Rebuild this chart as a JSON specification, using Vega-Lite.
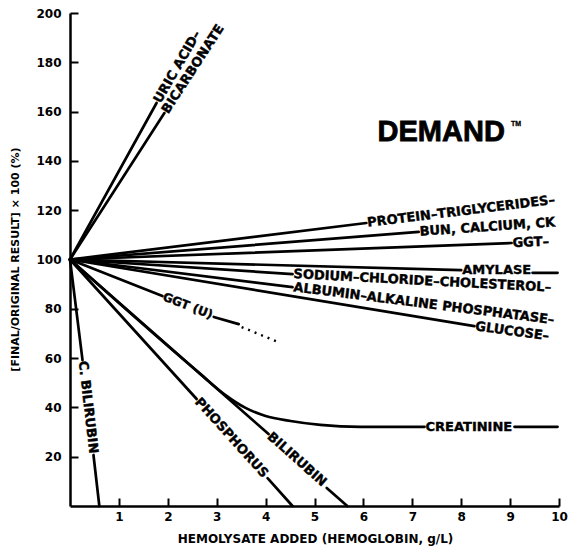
{
  "$schema": "https://vega.github.io/schema/vega-lite/v6.json",
  "width": 489,
  "height": 493,
  "autosize": {"type": "none"},
  "padding": {"left": 70, "top": 13, "right": 9, "bottom": 45},
  "background": "white",
  "config": {
    "view": {"stroke": null},
    "font": "DejaVu Sans",
    "text": {"font": "DejaVu Sans", "fontWeight": "bold", "fontSize": 13, "color": "black", "align": "left", "baseline": "middle", "dx": 1, "stroke": "black", "strokeWidth": 0.4}
  },
  "datasets": {
    "lines": [
      {"seg": "uric1", "x": 0, "y": 100}, {"seg": "uric1", "x": 1.77, "y": 163.5},
      {"seg": "bicarb1", "x": 0, "y": 100}, {"seg": "bicarb1", "x": 1.93, "y": 159.4},
      {"seg": "protein1", "x": 0, "y": 100}, {"seg": "protein1", "x": 6.06, "y": 114.8},
      {"seg": "bun1", "x": 0, "y": 100}, {"seg": "bun1", "x": 7.13, "y": 111.2},
      {"seg": "ggt1", "x": 0, "y": 100}, {"seg": "ggt1", "x": 9.03, "y": 106.7},
      {"seg": "amylase1", "x": 0, "y": 100}, {"seg": "amylase1", "x": 8.0, "y": 95.7},
      {"seg": "amylase2", "x": 9.46, "y": 94.6}, {"seg": "amylase2", "x": 9.97, "y": 94.6},
      {"seg": "sodium1", "x": 0, "y": 100}, {"seg": "sodium1", "x": 4.55, "y": 94.1},
      {"seg": "albumin1", "x": 0, "y": 100}, {"seg": "albumin1", "x": 4.55, "y": 88.8},
      {"seg": "glucose1", "x": 0, "y": 100}, {"seg": "glucose1", "x": 8.27, "y": 73.0},
      {"seg": "ggtu1", "x": 0, "y": 100}, {"seg": "ggtu1", "x": 1.89, "y": 85.2},
      {"seg": "ggtu2", "x": 2.94, "y": 76.7}, {"seg": "ggtu2", "x": 3.45, "y": 73.8},
      {"seg": "creat1", "x": 0, "y": 100}, {"seg": "creat1", "x": 2.67, "y": 53.5},
      {"seg": "creat1", "x": 3.18, "y": 45.0}, {"seg": "creat1", "x": 3.59, "y": 39.8},
      {"seg": "creat1", "x": 4.0, "y": 36.5}, {"seg": "creat1", "x": 4.51, "y": 34.5},
      {"seg": "creat1", "x": 5.12, "y": 32.9}, {"seg": "creat1", "x": 5.94, "y": 32.1},
      {"seg": "creat1", "x": 7.25, "y": 32.1},
      {"seg": "creat2", "x": 9.09, "y": 32.1}, {"seg": "creat2", "x": 9.97, "y": 32.1},
      {"seg": "bili1", "x": 0, "y": 100}, {"seg": "bili1", "x": 4.06, "y": 29.2},
      {"seg": "bili2", "x": 5.25, "y": 7.3}, {"seg": "bili2", "x": 5.67, "y": 0},
      {"seg": "phos1", "x": 0, "y": 100}, {"seg": "phos1", "x": 2.59, "y": 43.4},
      {"seg": "phos2", "x": 4.04, "y": 11.3}, {"seg": "phos2", "x": 4.55, "y": 0},
      {"seg": "cbili1", "x": 0, "y": 100}, {"seg": "cbili1", "x": 0.256, "y": 59.2},
      {"seg": "cbili2", "x": 0.48, "y": 20.7}, {"seg": "cbili2", "x": 0.6, "y": 0}
    ],
    "dotted": [
      {"seg": "ggtu3", "x": 3.51, "y": 72.6}, {"seg": "ggtu3", "x": 4.26, "y": 66.5}
    ],
    "labels": [
      {"label": "URIC ACID–", "x": 1.77, "y": 163.5},
      {"label": "BICARBONATE", "x": 1.93, "y": 159.4},
      {"label": "PROTEIN–TRIGLYCERIDES–", "x": 6.06, "y": 114.8},
      {"label": "BUN, CALCIUM, CK", "x": 7.13, "y": 111.2},
      {"label": "GGT–", "x": 9.03, "y": 106.7},
      {"label": "AMYLASE", "x": 8.0, "y": 95.7},
      {"label": "SODIUM–CHLORIDE–CHOLESTEROL–", "x": 4.55, "y": 94.1},
      {"label": "ALBUMIN–ALKALINE PHOSPHATASE–", "x": 4.55, "y": 88.8},
      {"label": "GLUCOSE–", "x": 8.27, "y": 73.0},
      {"label": "GGT (U)", "x": 1.89, "y": 85.2},
      {"label": "CREATININE", "x": 7.25, "y": 32.1},
      {"label": "BILIRUBIN", "x": 4.06, "y": 29.2},
      {"label": "PHOSPHORUS", "x": 2.59, "y": 43.4},
      {"label": "C. BILIRUBIN", "x": 0.256, "y": 59.2},
      {"label": "DEMAND", "x": 6.29, "y": 151.7},
      {"label": "TM", "x": 9.02, "y": 155.0}
    ]
  },
  "encoding": {
    "x": {
      "field": "x", "type": "quantitative",
      "scale": {"domain": [0, 10], "nice": false, "zero": false},
      "axis": {
        "values": [1, 2, 3, 4, 5, 6, 7, 8, 9, 10],
        "grid": false,
        "domainColor": "black", "domainWidth": 2.5,
        "tickColor": "black", "tickWidth": 2, "tickSize": -8,
        "labelPadding": 13,
        "labelFont": "DejaVu Sans", "labelFontWeight": "bold", "labelFontSize": 12, "labelColor": "black",
        "labelFlush": false, "labelOverlap": false,
        "title": "HEMOLYSATE ADDED (HEMOGLOBIN, g/L)",
        "titleFont": "DejaVu Sans", "titleFontWeight": "bold", "titleFontSize": 12, "titleColor": "black",
        "titleX": 245, "titleY": 32, "titleBaseline": "middle", "titleAlign": "center"
      }
    },
    "y": {
      "field": "y", "type": "quantitative",
      "scale": {"domain": [0, 200], "nice": false, "zero": false},
      "axis": {
        "values": [20, 40, 60, 80, 100, 120, 140, 160, 180, 200],
        "grid": false,
        "domainColor": "black", "domainWidth": 2.5,
        "tickColor": "black", "tickWidth": 2, "tickSize": -8,
        "labelPadding": 17,
        "labelFont": "DejaVu Sans", "labelFontWeight": "bold", "labelFontSize": 12, "labelColor": "black",
        "labelFlush": false, "labelOverlap": false,
        "title": "[FINAL/ORIGINAL RESULT] × 100 (%)",
        "titleFont": "DejaVu Sans", "titleFontWeight": "bold", "titleFontSize": 11, "titleColor": "black",
        "titleX": -55, "titleY": 246, "titleAngle": -90, "titleBaseline": "middle", "titleAlign": "center"
      }
    }
  },
  "layer": [
    {
      "data": {"name": "lines"},
      "mark": {"type": "line", "color": "black", "strokeWidth": 2.7, "interpolate": "monotone", "strokeCap": "round"},
      "encoding": {"detail": {"field": "seg"}}
    },
    {
      "data": {"name": "dotted"},
      "mark": {"type": "line", "color": "black", "strokeWidth": 2.4, "strokeDash": [2, 5]},
      "encoding": {"detail": {"field": "seg"}}
    },
    {"data": {"name": "labels"}, "transform": [{"filter": {"field": "label", "equal": "URIC ACID–"}}], "mark": {"type": "text", "angle": -60}, "encoding": {"text": {"field": "label"}}},
    {"data": {"name": "labels"}, "transform": [{"filter": {"field": "label", "equal": "BICARBONATE"}}], "mark": {"type": "text", "angle": -57}, "encoding": {"text": {"field": "label"}}},
    {"data": {"name": "labels"}, "transform": [{"filter": {"field": "label", "equal": "PROTEIN–TRIGLYCERIDES–"}}], "mark": {"type": "text", "angle": -7}, "encoding": {"text": {"field": "label"}}},
    {"data": {"name": "labels"}, "transform": [{"filter": {"field": "label", "equal": "BUN, CALCIUM, CK"}}], "mark": {"type": "text", "angle": -4}, "encoding": {"text": {"field": "label"}}},
    {"data": {"name": "labels"}, "transform": [{"filter": {"field": "label", "equal": "GGT–"}}], "mark": {"type": "text", "angle": -2}, "encoding": {"text": {"field": "label"}}},
    {"data": {"name": "labels"}, "transform": [{"filter": {"field": "label", "equal": "AMYLASE"}}], "mark": {"type": "text", "angle": 0}, "encoding": {"text": {"field": "label"}}},
    {"data": {"name": "labels"}, "transform": [{"filter": {"field": "label", "equal": "SODIUM–CHLORIDE–CHOLESTEROL–"}}], "mark": {"type": "text", "angle": 3}, "encoding": {"text": {"field": "label"}}},
    {"data": {"name": "labels"}, "transform": [{"filter": {"field": "label", "equal": "ALBUMIN–ALKALINE PHOSPHATASE–"}}], "mark": {"type": "text", "angle": 7.2}, "encoding": {"text": {"field": "label"}}},
    {"data": {"name": "labels"}, "transform": [{"filter": {"field": "label", "equal": "GLUCOSE–"}}], "mark": {"type": "text", "angle": 8}, "encoding": {"text": {"field": "label"}}},
    {"data": {"name": "labels"}, "transform": [{"filter": {"field": "label", "equal": "GGT (U)"}}], "mark": {"type": "text", "angle": 21, "fontSize": 12}, "encoding": {"text": {"field": "label"}}},
    {"data": {"name": "labels"}, "transform": [{"filter": {"field": "label", "equal": "CREATININE"}}], "mark": {"type": "text", "angle": 0}, "encoding": {"text": {"field": "label"}}},
    {"data": {"name": "labels"}, "transform": [{"filter": {"field": "label", "equal": "BILIRUBIN"}}], "mark": {"type": "text", "angle": 41.7}, "encoding": {"text": {"field": "label"}}},
    {"data": {"name": "labels"}, "transform": [{"filter": {"field": "label", "equal": "PHOSPHORUS"}}], "mark": {"type": "text", "angle": 48}, "encoding": {"text": {"field": "label"}}},
    {"data": {"name": "labels"}, "transform": [{"filter": {"field": "label", "equal": "C. BILIRUBIN"}}], "mark": {"type": "text", "angle": 83.3}, "encoding": {"text": {"field": "label"}}},
    {"data": {"name": "labels"}, "transform": [{"filter": {"field": "label", "equal": "DEMAND"}}], "mark": {"type": "text", "angle": 0, "font": "Liberation Sans", "fontSize": 29, "dx": 0, "strokeWidth": 0.8}, "encoding": {"text": {"field": "label"}}},
    {"data": {"name": "labels"}, "transform": [{"filter": {"field": "label", "equal": "TM"}}], "mark": {"type": "text", "angle": 0, "font": "Liberation Sans", "fontSize": 7, "dx": 0, "strokeWidth": 0.3}, "encoding": {"text": {"field": "label"}}}
  ]
}
